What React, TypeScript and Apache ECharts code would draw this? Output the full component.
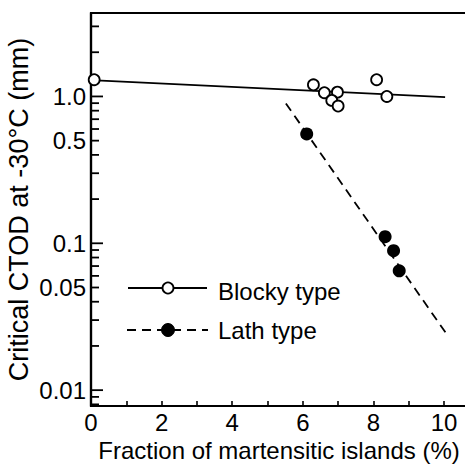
import React, { useEffect, useRef } from "react";
import * as echarts from "echarts";

// Data
const blockyPoints: [number, number][] = [
  [0.09, 1.3],
  [6.3, 1.2],
  [6.61, 1.06],
  [6.98, 1.07],
  [6.82, 0.94],
  [7.0, 0.86],
  [8.09, 1.3],
  [8.38, 1.0],
];
const lathPoints: [number, number][] = [
  [6.11, 0.555],
  [8.33, 0.111],
  [8.57, 0.089],
  [8.73, 0.065],
];
const blockyFit: [number, number][] = [
  [0, 1.29],
  [10.03, 0.99],
];
const lathFit: [number, number][] = [
  [5.52, 0.896],
  [10.12, 0.0232],
];

const yMajorTicks = [1, 0.1, 0.01];
const yMinorTicks = [
  3, 2, 0.9, 0.8, 0.7, 0.6, 0.5, 0.4, 0.3, 0.2, 0.09, 0.08, 0.07, 0.06, 0.05,
  0.04, 0.03, 0.02, 0.009, 0.008,
];
const yLabelValues = [1, 0.5, 0.1, 0.05, 0.01];
const yLabelTexts = ["1.0", "0.5", "0.1", "0.05", "0.01"];
const xLabelValues = [0, 2, 4, 6, 8, 10];

const FONT = "Liberation Sans";

export default function App() {
  const ref = useRef<HTMLDivElement>(null);
  useEffect(() => {
    if (!ref.current) return;
    const chart = echarts.init(ref.current, null, { renderer: "svg" });
    const tickSeries = (vals: number[], len: number) => ({
      type: "scatter",
      clip: false,
      data: vals.map((v) => [0, v]),
      symbol: "rect",
      symbolSize: [len, 1.8],
      symbolOffset: [len / 2, 0],
      itemStyle: { color: "#000", opacity: 1 },
    });
    chart.setOption({
      animation: false,
      backgroundColor: "#fff",
      grid: {
        left: 91,
        top: 13,
        width: 376,
        height: 393,
        show: true,
        borderColor: "#000",
        borderWidth: 2.2,
        outerBoundsMode: "none",
      },
      xAxis: {
        type: "value",
        min: 0,
        max: 10.65,
        interval: 1,
        name: "Fraction of martensitic islands (%)",
        nameLocation: "middle",
        nameGap: 27,
        nameTextStyle: {
          fontFamily: FONT,
          fontSize: 24,
          color: "#000",
          verticalAlign: "top",
        },
        axisLine: { show: true, lineStyle: { color: "#000", width: 2.2 } },
        axisTick: {
          show: true,
          inside: true,
          length: 5,
          lineStyle: { color: "#000", width: 1.6 },
        },
        axisLabel: {
          fontFamily: FONT,
          fontSize: 24,
          color: "#000",
          margin: 4,
          formatter: (v: number) =>
            xLabelValues.indexOf(v) >= 0 ? String(v) : "",
        },
        splitLine: { show: false },
      },
      yAxis: {
        type: "log",
        logBase: 10,
        min: 0.0078,
        max: 3.7,
        name: "Critical CTOD at -30°C (mm)",
        nameLocation: "middle",
        nameRotate: 90,
        nameGap: 59,
        nameTextStyle: { fontFamily: FONT, fontSize: 27, color: "#000" },
        axisLine: { show: true, lineStyle: { color: "#000", width: 2.2 } },
        axisTick: { show: false },
        axisLabel: { show: false },
        splitLine: { show: false },
      },
      graphic: [
        {
          type: "line",
          shape: { x1: 128, y1: 288, x2: 207, y2: 288 },
          style: { stroke: "#000", lineWidth: 1.8 },
        },
        {
          type: "circle",
          shape: { cx: 168, cy: 288, r: 5.5 },
          style: { fill: "#fff", stroke: "#000", lineWidth: 1.8 },
        },
        {
          type: "text",
          x: 218,
          y: 291,
          style: {
            text: "Blocky type",
            fontFamily: FONT,
            fontSize: 24,
            fill: "#000",
            verticalAlign: "middle",
          },
        },
        {
          type: "line",
          shape: { x1: 127, y1: 330, x2: 208, y2: 330 },
          style: { stroke: "#000", lineWidth: 1.8, lineDash: [9, 6] },
        },
        {
          type: "circle",
          shape: { cx: 168, cy: 330, r: 6.5 },
          style: { fill: "#000", stroke: "#000", lineWidth: 1 },
        },
        {
          type: "text",
          x: 218,
          y: 330,
          style: {
            text: "Lath type",
            fontFamily: FONT,
            fontSize: 24,
            fill: "#000",
            verticalAlign: "middle",
          },
        },
      ],
      series: [
        tickSeries(yMajorTicks, 12),
        tickSeries(yMinorTicks, 8),
        {
          type: "custom",
          coordinateSystem: "cartesian2d",
          clip: false,
          data: yLabelValues.map((v) => [0, v]),
          renderItem: (params: any, api: any) => {
            const p = api.coord([0, api.value(1)]);
            return {
              type: "text",
              x: p[0] - 5,
              y: p[1],
              style: {
                text: yLabelTexts[params.dataIndex],
                fontFamily: FONT,
                fontSize: 24,
                fill: "#000",
                align: "right",
                verticalAlign: "middle",
              },
            };
          },
        },
        {
          name: "Blocky fit",
          type: "line",
          data: blockyFit,
          symbol: "none",
          lineStyle: { color: "#000", width: 1.8 },
          z: 2,
        },
        {
          name: "Lath fit",
          type: "line",
          data: lathFit,
          symbol: "none",
          lineStyle: { color: "#000", width: 1.8, type: [9, 6] },
          z: 2,
        },
        {
          name: "Blocky type",
          type: "scatter",
          data: blockyPoints,
          symbol: "circle",
          symbolSize: 11,
          clip: false,
          itemStyle: { color: "#fff", borderColor: "#000", borderWidth: 1.8, opacity: 1 },
          z: 3,
        },
        {
          name: "Lath type",
          type: "scatter",
          data: lathPoints,
          symbol: "circle",
          symbolSize: 13,
          itemStyle: { color: "#000", opacity: 1 },
          z: 3,
        },
      ],
    });
    return () => chart.dispose();
  }, []);
  return (
    <div
      ref={ref}
      style={{ position: "absolute", left: 0, top: 0, width: 465, height: 465 }}
    />
  );
}
